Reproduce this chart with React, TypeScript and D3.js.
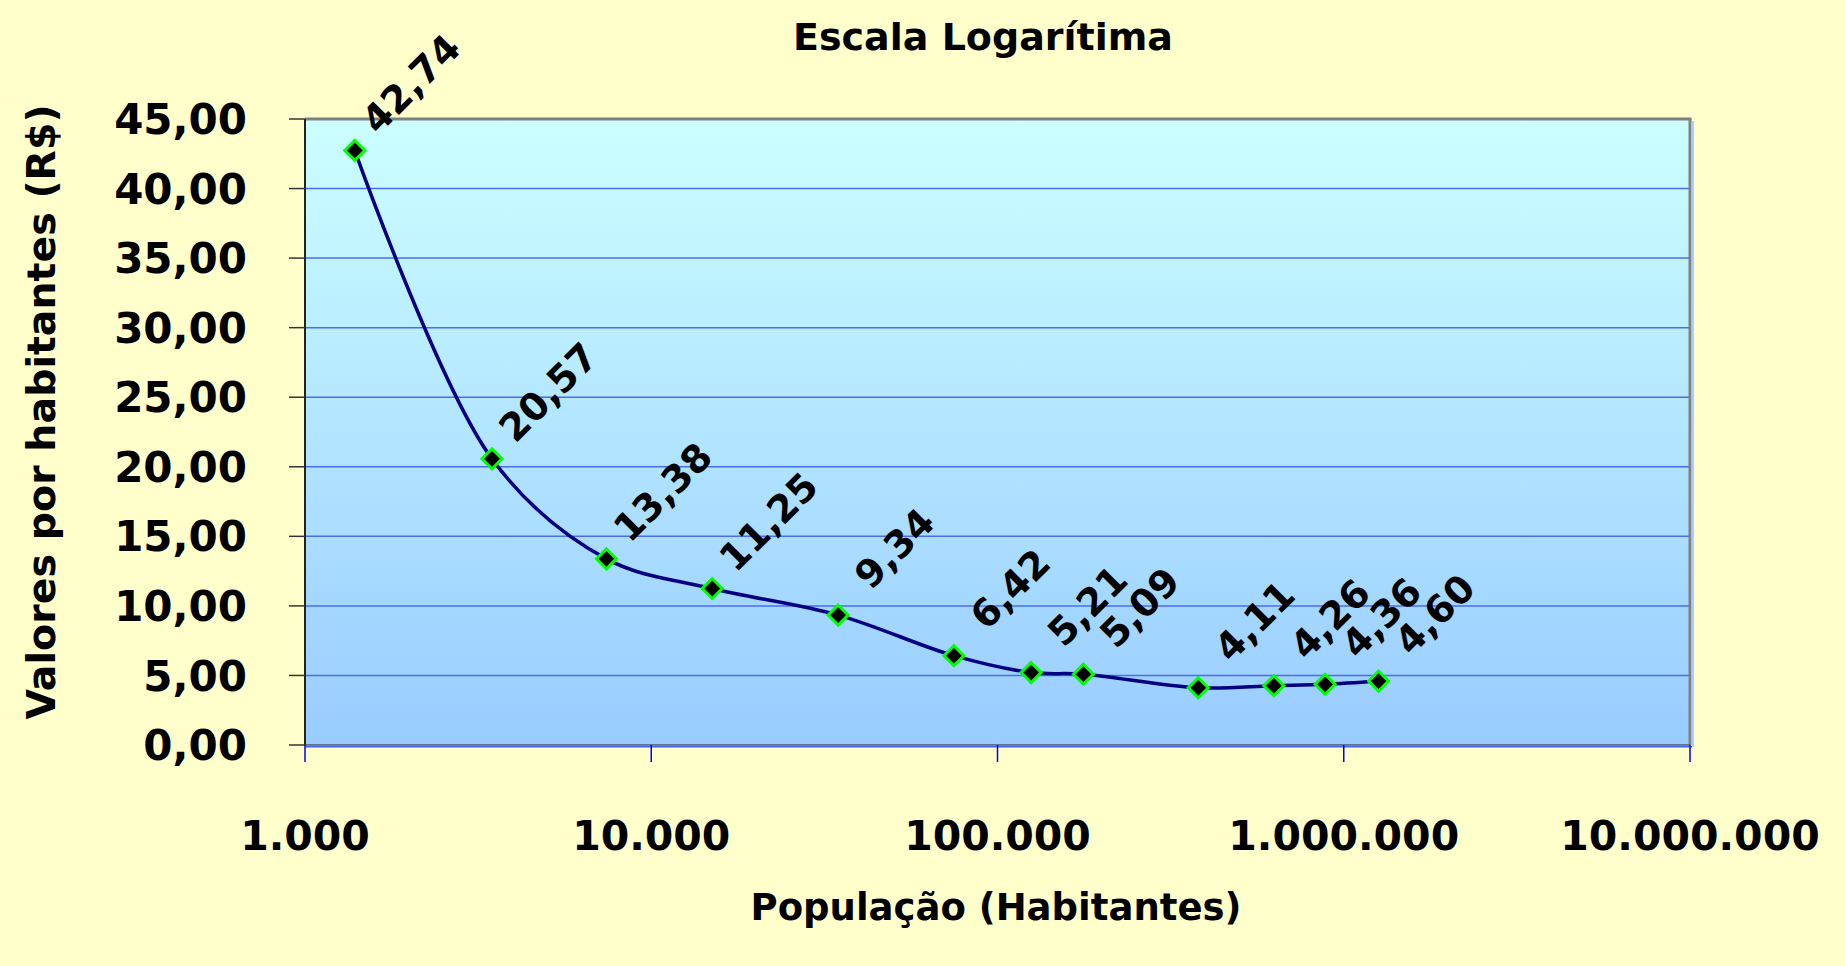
import React from "react";
import * as d3 from "d3";

// ---- Data ----
const population: number[] = [1392, 3467, 7420, 15000, 34650, 74800, 125000, 177000, 380000, 628000, 883000, 1260000];
const valuePerInhabitant: number[] = [42.74, 20.57, 13.38, 11.25, 9.34, 6.42, 5.21, 5.09, 4.11, 4.26, 4.36, 4.6];
const yTicks: number[] = [0, 5, 10, 15, 20, 25, 30, 35, 40, 45];
const xTicks: number[] = [1000, 10000, 100000, 1000000, 10000000];
const titleText = "Escala Logarítima";
const xTitle = "População (Habitantes)";
const yTitle = "Valores por habitantes (R$)";

const W = 1845;
const H = 966;
const PL = 305, PR = 1690, PT = 119, PB = 745;

const locale = d3.formatLocale({ decimal: ",", thousands: ".", grouping: [3], currency: ["R$", ""] });
const fmt2 = locale.format(",.2f");
const fmtInt = locale.format(",d");

const FONT = "'DejaVu Sans', Verdana, sans-serif";

export default function App() {
  const x = d3.scaleLog().domain([1e3, 1e7]).range([PL, PR]);
  const y = d3.scaleLinear().domain([0, 45]).range([PB, PT]);
  const pts: [number, number][] = population.map((p, i) => [x(p), y(valuePerInhabitant[i])]);
  const line = d3.line().curve(d3.curveCatmullRom.alpha(0.5))(pts) || "";
  const marker = d3.symbol().type(d3.symbolSquare).size(200)() || "";

  return (
    <svg width={W} height={H} style={{ position: "absolute", left: 0, top: 0, background: "#FFFFCC" }}>
      <defs>
        <linearGradient id="plotGrad" x1="0" y1="0" x2="0" y2="1">
          <stop offset="0%" stopColor="#CCFFFF" />
          <stop offset="100%" stopColor="#99CCFF" />
        </linearGradient>
      </defs>
      <rect x={0} y={0} width={W} height={H} fill="#FFFFCC" />
      {/* plot area */}
      <rect x={PL} y={PT} width={PR - PL} height={PB - PT} fill="url(#plotGrad)" />
      {/* gridlines */}
      {yTicks.filter((t) => t > 0 && t < 45).map((t) => (
        <line key={"g" + t} x1={PL} x2={PR} y1={y(t)} y2={y(t)} stroke="#4a6cf0" strokeWidth={1.5} />
      ))}
      {/* borders */}
      <line x1={PL} x2={PR + 1.5} y1={PT} y2={PT} stroke="#808080" strokeWidth={3} />
      <line x1={PR} x2={PR} y1={PT} y2={PB} stroke="#808080" strokeWidth={3} />
      <line x1={PR + 3} x2={PR + 3} y1={PT + 2} y2={PB + 2} stroke="#aaccff" strokeWidth={2} />
      <line x1={PL} x2={PR} y1={PB} y2={PB} stroke="#555566" strokeWidth={1.5} />
      <line x1={PL} x2={PR + 2} y1={PB + 1.8} y2={PB + 1.8} stroke="#4466ff" strokeWidth={1.5} />
      <line x1={PL} x2={PL} y1={PT} y2={PB} stroke="#222" strokeWidth={2} />
      {/* y ticks */}
      {yTicks.map((t) => (
        <g key={"y" + t}>
          <line x1={PL - 16} x2={PL} y1={y(t)} y2={y(t)} stroke="#333" strokeWidth={1.5} />
          <text x={247} y={y(t)} dy="0.36em" textAnchor="end" fontFamily={FONT} fontWeight="bold" fontSize={42} fill="#000">
            {fmt2(t)}
          </text>
        </g>
      ))}
      {/* x ticks */}
      {xTicks.map((t) => (
        <g key={"x" + t}>
          <line x1={x(t)} x2={x(t)} y1={PB} y2={PB + 17} stroke="#0000ff" strokeWidth={1.5} />
          <text x={x(t)} y={850} textAnchor="middle" fontFamily={FONT} fontWeight="bold" fontSize={41} fill="#000">
            {fmtInt(t)}
          </text>
        </g>
      ))}
      {/* line */}
      <path d={line} fill="none" stroke="#000080" strokeWidth={3.5} strokeLinejoin="round" />
      {/* markers */}
      {pts.map(([px, py], i) => (
        <path key={"m" + i} d={marker} transform={`translate(${px},${py}) rotate(45)`} fill="#000" stroke="#00ff00" strokeWidth={3} />
      ))}
      {/* data labels */}
      {pts.map(([px, py], i) => (
        <text
          key={"l" + i}
          transform={`translate(${px},${py}) rotate(-45)`}
          x={87}
          y={6}
          textAnchor="middle"
          fontFamily={FONT}
          fontWeight="bold"
          fontSize={38}
          fill="#000"
        >
          {fmt2(valuePerInhabitant[i])}
        </text>
      ))}
      {/* titles */}
      <text x={983} y={50} textAnchor="middle" fontFamily={FONT} fontWeight="bold" fontSize={38} fill="#000">
        {titleText}
      </text>
      <text x={996} y={920} textAnchor="middle" fontFamily={FONT} fontWeight="bold" fontSize={37} fill="#000">
        {xTitle}
      </text>
      <text transform={`translate(55,412) rotate(-90)`} textAnchor="middle" fontFamily={FONT} fontWeight="bold" fontSize={39.5} fill="#000">
        {yTitle}
      </text>
    </svg>
  );
}
